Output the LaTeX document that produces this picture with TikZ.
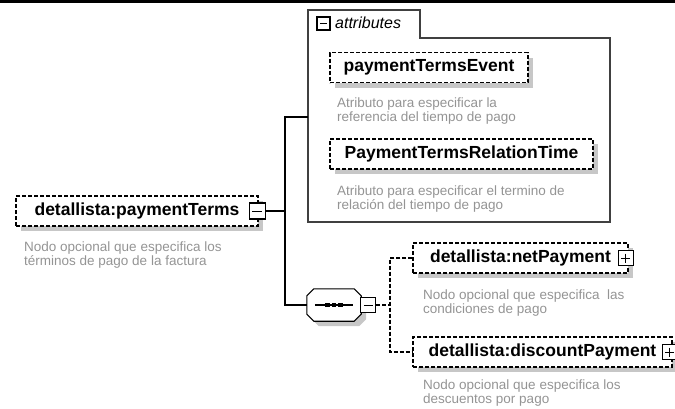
\documentclass[tikz,border=0pt]{standalone}
\usepackage{fontspec}
\setmainfont{Liberation Sans}
\usetikzlibrary{shadows, positioning}

\newcommand{\seqoutline}[1]{([xshift=7pt]#1.north west) -- ([xshift=-7pt]#1.north east)
  -- ([yshift=-7pt]#1.north east) -- ([yshift=7pt]#1.south east) -- ([xshift=-7pt]#1.south east)
  -- ([xshift=7pt]#1.south west) -- ([yshift=7pt]#1.south west) -- ([yshift=-7pt]#1.north west) -- cycle}

\begin{document}
\begin{tikzpicture}[x=1pt, y=-1pt,
  elem/.style={draw, dash pattern=on 4pt off 2pt, line width=1.1pt, fill=white,
    minimum height=30pt, inner xsep=4pt, font=\fontsize{17.5}{20}\selectfont\bfseries,
    drop shadow={shadow xshift=5pt, shadow yshift=-5pt, fill=black!22, opacity=1}},
  descr/.style={anchor=north west, inner sep=0pt, align=left, text=black!42,
    font=\fontsize{13.5}{14}\selectfont},
  expbox/.style={draw, fill=white, minimum size=15pt, inner sep=0pt, line width=1.1pt},
  minus/.style={expbox, path picture={\draw[line width=1pt]
    ([xshift=3pt]path picture bounding box.west) -- ([xshift=-3pt]path picture bounding box.east);}},
  plus/.style={expbox, path picture={\draw[line width=1pt]
    ([xshift=3pt]path picture bounding box.west) -- ([xshift=-3pt]path picture bounding box.east)
    ([yshift=-3pt]path picture bounding box.north) -- ([yshift=3pt]path picture bounding box.south);}},
  seqbox/.style={minimum width=54pt, minimum height=32pt, inner sep=0pt},
  bus/.style={line width=1.2pt},
  dbus/.style={line width=1.1pt, dash pattern=on 4pt off 2pt}
]
\useasboundingbox (0,0) rectangle (675,408);
\fill (0,0) rectangle (675,2.5);

% root element
\node[elem, minimum width=242pt] (pt) at (137,211) {detallista:paymentTerms};
\node[minus, minimum size=16pt] (ptminus) at ([xshift=-1.5pt]pt.east) {};
\node[descr] at (24,242) {Nodo opcional que especifica los\\términos de pago de la factura};

% attributes group
\draw[line width=1.5pt, black!75] (308,222) -- (308,10) -- (420,10) -- (420,38)
  -- (610,38) -- (610,222) -- cycle;
\node[minus, minimum size=13pt] (attrminus) at (323.5,23.5) {};
\node[anchor=west, inner sep=0pt, font=\fontsize{16}{18}\selectfont\itshape] (attrlbl)
  at (335,23) {attributes};
\coordinate (attrin) at (308,117);

\node[elem, minimum width=198pt] (ev) at (429,67.5) {paymentTermsEvent};
\node[descr] at (337,98) {Atributo para especificar la\\referencia del tiempo de pago};
\node[elem, minimum width=263pt] (rt) at (461.5,154) {PaymentTermsRelationTime};
\node[descr] at (337,186) {Atributo para especificar el termino de\\relación del tiempo de pago};

% sequence
\node[seqbox] (seq) at (334,305) {};
\fill[black!22, transform canvas={shift={(5pt,-5pt)}}] \seqoutline{seq};
\filldraw[fill=white, line width=1.1pt] \seqoutline{seq};
\draw[line width=1.2pt] ([xshift=8pt]seq.west) -- ([xshift=-8pt]seq.east);
\foreach \dx in {-6.5,0,6.5}
  \fill ([xshift=\dx pt]seq.center) +(-2.2,-2.2) rectangle +(2.2,2.2);
\node[minus, right=-1pt of seq] (seqminus) {};

\node[elem, minimum width=215pt] (np) at (520.5,258) {detallista:netPayment};
\node[plus] (npplus) at ([xshift=-3pt]np.east) {};
\node[descr] at (423,290) {Nodo opcional que especifica\ \ las\\condiciones de pago};
\node[elem, minimum width=259pt] (dp) at (542.5,352) {detallista:discountPayment};
\node[plus] (dpplus) at ([xshift=-3pt]dp.east) {};
\node[descr] at (423,380) {Nodo opcional que especifica los\\descuentos por pago};

% connectors
\coordinate (bus) at (285,0);
\coordinate (choice) at (390,0);
\draw[bus] (ptminus.east) -- (ptminus.east -| bus);
\draw[bus] (attrin) -- (attrin -| bus) -- (seq.west -| bus) -- (seq.west);
\draw[dbus] (seqminus.east) -- (seqminus.east -| choice);
\draw[dbus] (np.west) -- (np.west -| choice) -- (dp.west -| choice) -- (dp.west);
\end{tikzpicture}
\end{document}
